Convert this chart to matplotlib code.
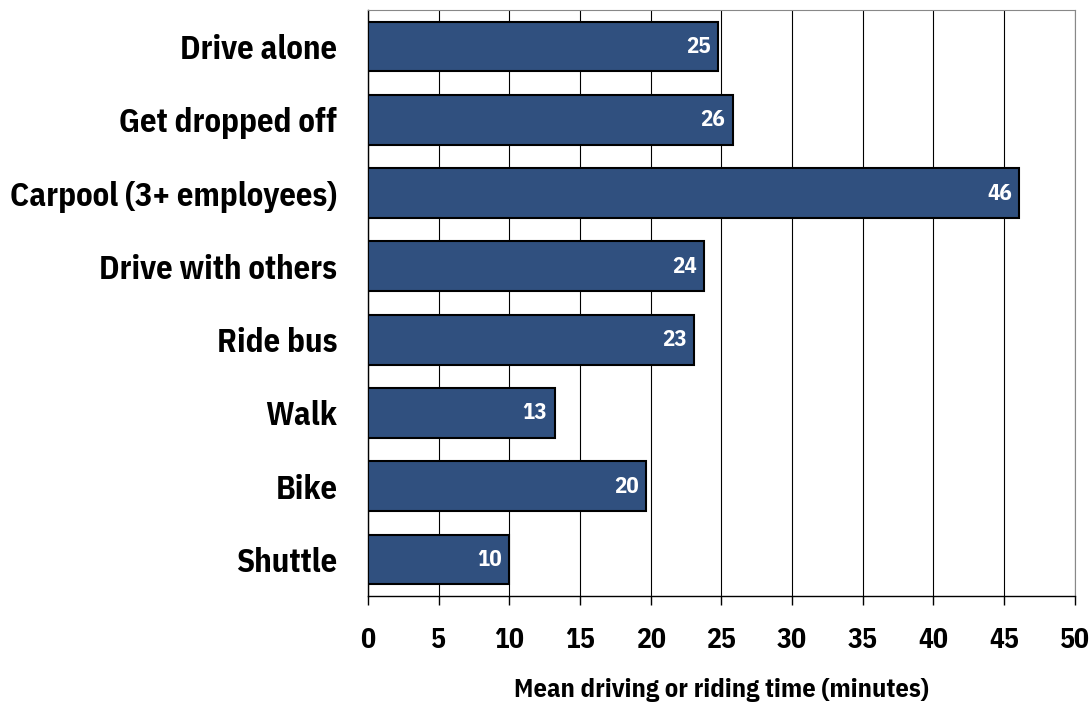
import matplotlib
matplotlib.use("Agg")
from matplotlib import pyplot as plt

modes = ["Drive alone", "Get dropped off", "Carpool (3+ employees)",
         "Drive with others", "Ride bus", "Walk", "Bike", "Shuttle"]
minutes = [24.8, 25.8, 46.1, 23.8, 23.1, 13.2, 19.7, 10.0]
ticks = [0, 5, 10, 15, 20, 25, 30, 35, 40, 45, 50]

# narrow bold face, falls back to plain sans if missing
plt.rcParams["font.family"] = ["IBM Plex Sans Condensed", "Liberation Sans", "DejaVu Sans"]
plt.rcParams["font.weight"] = "bold"

fig = plt.figure(figsize=(10.92, 7.08), dpi=100)
ax = fig.add_axes([0.337, 0.158, 0.647, 0.828])

pos = list(range(len(modes)))
ax.barh(pos, minutes, height=0.68, color="#30507F", edgecolor="black",
        linewidth=1.5, zorder=3)

# value labels just inside the end of each bar
for y, v in zip(pos, minutes):
    ax.text(v - 0.55, y, "%.0f" % v, ha="right", va="center",
            color="white", fontsize=16.5, fontweight="bold", zorder=4)

ax.set_xlim(0, 50)
ax.set_ylim(len(modes) - 0.5, -0.5)
ax.set_xticks(ticks)
ax.set_yticks(pos)
ax.set_yticklabels(modes, fontsize=23.5, fontweight="bold")
ax.tick_params(axis="y", length=0, pad=22)
ax.tick_params(axis="x", length=6.5, width=1.0, labelsize=20, pad=16,
               direction="out")
for lab in ax.get_xticklabels():
    lab.set_fontweight("bold")

ax.grid(axis="x", color="black", linewidth=0.8, zorder=0)
ax.set_axisbelow(True)

ax.spines["left"].set_color("black")
ax.spines["bottom"].set_color("black")
ax.spines["left"].set_linewidth(1.0)
ax.spines["bottom"].set_linewidth(1.0)
ax.spines["top"].set_color("#888888")
ax.spines["right"].set_color("#888888")

ax.set_xlabel("Mean driving or riding time (minutes)", fontsize=19,
              fontweight="bold", labelpad=17)

fig.savefig("out.png", dpi=100)
